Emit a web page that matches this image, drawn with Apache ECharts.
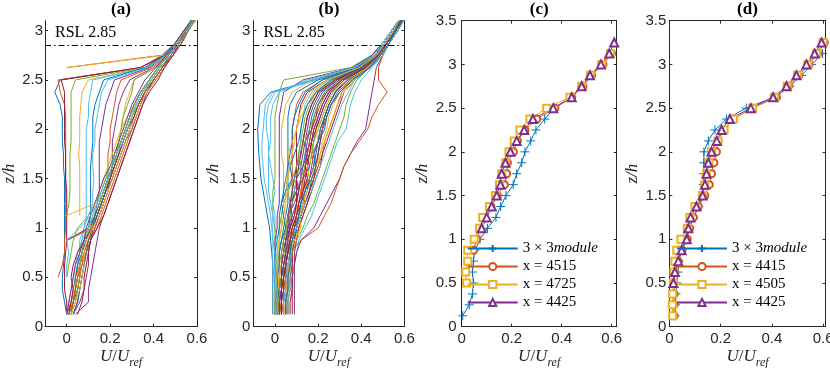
<!DOCTYPE html>
<html><head><meta charset="utf-8">
<script src="https://cdn.jsdelivr.net/npm/echarts@6/dist/echarts.min.js"></script>
<style>html,body{margin:0;padding:0;background:#fff}#c{width:830px;height:368px}</style>
</head><body><div id="c"></div><script>
const _ = null;
// heights z/h of every profile point
const Z = [0.125,0.25,0.375,0.5,0.625,0.75,0.875,1,1.125,1.25,1.375,1.5,1.625,1.75,1.875,2,2.125,2.25,2.375,2.5,2.625,2.75,2.875,3,3.125,3.25];

// panel (a) profiles U/Uref
const a01=[0.0,-0.01,-0.02,-0.02,-0.015,-0.01,-0.01,-0.01,-0.01,-0.01,-0.01,-0.01,-0.015,-0.015,-0.02,-0.02,-0.02,-0.03,-0.055,-0.03,0.34,0.45,0.5,0.54,0.58,0.61];
const a02=[_,_,_,-0.04,-0.02,-0.01,-0.01,-0.005,-0.005,-0.005,-0.005,-0.005,-0.005,-0.005,-0.005,-0.005,-0.005,-0.01,-0.03,-0.04,0.34,0.44,0.5,0.54,0.58,0.61];
const a03=[0.0,0.0,-0.01,-0.01,-0.01,-0.005,0.0,0.0,0.0,0.0,0.0,-0.005,-0.005,-0.005,-0.01,-0.01,-0.01,-0.01,-0.01,-0.025,0.34,0.45,0.5,0.545,0.58,0.61];
const a04=[_,_,_,_,_,_,_,_,_,_,_,_,_,_,_,_,_,_,_,_,0.0,0.44,0.5,0.54,0.58,0.61];
const a05=[_,_,_,_,_,_,_,_,_,_,_,_,_,_,_,_,_,_,_,_,0.0,0.45,0.5,0.545,0.585,0.62];
const a06=[_,_,_,_,_,_,_,_,0.0,0.01,0.015,0.015,0.015,0.015,0.02,0.02,0.02,0.02,0.02,0.04,0.36,0.46,0.51,0.55,0.59,0.62];
const a07=[_,_,_,_,_,_,_,_,0.06,0.06,0.06,0.06,0.06,0.055,0.06,0.06,0.06,0.065,0.07,0.1,0.37,0.46,0.51,0.55,0.59,0.62];
const a08=[0.01,0.03,0.04,0.05,0.05,0.06,0.07,0.08,0.09,0.09,0.09,0.09,0.09,0.09,0.09,0.09,0.1,0.1,0.11,0.12,0.37,0.46,0.51,0.55,0.59,0.62];
const a09=[0.02,0.03,0.05,0.06,0.06,0.07,0.08,0.1,0.11,0.11,0.11,0.11,0.11,0.115,0.12,0.12,0.12,0.13,0.15,0.17,0.36,0.45,0.5,0.54,0.58,0.61];
const a10=[0.03,0.06,0.08,0.09,0.1,0.1,0.11,0.12,0.13,0.14,0.15,0.15,0.15,0.15,0.15,0.16,0.17,0.18,0.2,0.22,0.38,0.46,0.51,0.55,0.59,0.62];
const a11=[0.01,0.02,0.04,0.04,0.05,0.06,0.06,0.08,0.1,0.12,0.12,0.125,0.12,0.12,0.13,0.13,0.14,0.15,0.16,0.19,0.37,0.46,0.5,0.54,0.58,0.61];
const a12=[0.02,0.04,0.05,0.06,0.07,0.08,0.1,0.12,0.14,0.16,0.18,0.19,0.19,0.19,0.2,0.2,0.21,0.22,0.23,0.25,0.39,0.47,0.51,0.55,0.59,0.62];
const a13=[0.03,0.05,0.06,0.07,0.08,0.09,0.11,0.13,0.15,0.17,0.19,0.2,0.21,0.21,0.21,0.22,0.23,0.24,0.26,0.29,0.4,0.47,0.52,0.55,0.59,0.62];
const a14=[0.0,0.02,0.04,0.05,0.06,0.08,0.1,0.12,0.14,0.16,0.18,0.2,0.22,0.23,0.24,0.25,0.26,0.27,0.29,0.31,0.4,0.47,0.51,0.55,0.58,0.61];
const a15=[0.01,0.03,0.04,0.05,0.06,0.07,0.09,0.11,0.13,0.15,0.17,0.19,0.21,0.22,0.24,0.25,0.26,0.28,0.3,0.31,0.41,0.48,0.52,0.56,0.59,0.62];
const a16=[_,_,_,_,_,_,0.0,0.12,0.14,0.16,0.18,0.2,0.22,0.24,0.26,0.28,0.3,0.32,0.35,0.39,0.43,0.48,0.52,0.56,0.59,0.62];
const a17=[_,_,_,_,_,_,0.0,0.1,0.13,0.15,0.17,0.19,0.21,0.23,0.25,0.27,0.29,0.31,0.34,0.38,0.42,0.47,0.51,0.55,0.58,0.61];
const a18=[_,_,_,_,_,_,_,_,0.0,0.13,0.15,0.17,0.19,0.21,0.23,0.25,0.28,0.31,0.34,0.38,0.42,0.47,0.51,0.55,0.58,0.61];
const a19=[0.0,0.02,0.03,0.04,0.05,0.07,0.09,0.11,0.13,0.15,0.17,0.19,0.21,0.23,0.25,0.27,0.29,0.31,0.34,0.38,0.42,0.47,0.51,0.55,0.58,0.61];
const a20=[0.02,0.03,0.04,0.04,0.06,0.08,0.1,0.13,0.15,0.17,0.19,0.21,0.23,0.25,0.27,0.29,0.31,0.33,0.36,0.4,0.44,0.48,0.52,0.56,0.59,0.62];
const a21=[0.01,0.02,0.03,0.05,0.06,0.07,0.08,0.1,0.12,0.15,0.17,0.2,0.22,0.24,0.26,0.28,0.3,0.32,0.35,0.39,0.43,0.48,0.52,0.55,0.59,0.62];
const a22=[0.04,0.1,0.1,0.11,0.12,0.13,0.14,0.15,0.17,0.19,0.21,0.23,0.25,0.27,0.29,0.31,0.33,0.35,0.37,0.4,0.44,0.49,0.53,0.56,0.6,0.63];
const a23=[0.02,0.04,0.05,0.06,0.06,0.07,0.08,0.11,0.14,0.16,0.18,0.2,0.22,0.24,0.26,0.28,0.3,0.33,0.36,0.39,0.43,0.48,0.52,0.56,0.59,0.62];
const a24=[0.0,0.01,0.02,0.03,0.04,0.05,0.07,0.1,0.12,0.14,0.16,0.18,0.2,0.23,0.25,0.27,0.29,0.32,0.35,0.38,0.42,0.47,0.51,0.55,0.58,0.61];
const a25=[0.01,0.02,0.03,0.02,0.03,0.05,0.08,0.12,0.14,0.16,0.18,0.2,0.22,0.24,0.26,0.28,0.31,0.33,0.36,0.4,0.44,0.48,0.52,0.55,0.59,0.62];
const a26=[0.03,0.05,0.06,0.07,0.08,0.09,0.1,0.12,0.14,0.16,0.18,0.21,0.23,0.25,0.27,0.3,0.32,0.34,0.37,0.41,0.45,0.49,0.53,0.56,0.6,0.63];
const a27=[0.01,0.03,0.04,0.05,0.07,0.09,0.11,0.14,0.16,0.18,0.2,0.22,0.24,0.26,0.28,0.3,0.32,0.34,0.36,0.4,0.44,0.49,0.53,0.56,0.59,0.62];
const a28=[0.02,0.04,0.06,0.07,0.08,0.08,0.09,0.12,0.15,0.17,0.19,0.21,0.23,0.25,0.27,0.29,0.32,0.34,0.37,0.41,0.45,0.49,0.52,0.56,0.6,0.62];
const a29=[0.0,0.01,0.02,0.03,0.04,0.06,0.08,0.09,0.11,0.13,0.15,0.17,0.2,0.22,0.24,0.26,0.28,0.3,0.33,0.36,0.41,0.46,0.5,0.54,0.58,0.61];
const a30=[_,_,_,0.0,0.01,0.02,0.03,0.05,0.1,0.13,0.16,0.18,0.2,0.22,0.25,0.27,0.29,0.31,0.34,0.38,0.42,0.47,0.51,0.55,0.59,0.62];
const a31=[0.05,0.07,0.08,0.08,0.09,0.1,0.11,0.14,0.17,0.19,0.21,0.23,0.25,0.27,0.29,0.31,0.33,0.35,0.38,0.42,0.45,0.49,0.52,0.56,0.59,0.62];
const a32=[_,_,_,0.0,0.0,0.01,0.0,0.06,0.11,0.14,0.17,0.19,0.21,0.23,0.26,0.28,0.3,0.32,0.35,0.39,0.43,0.48,0.52,0.56,0.59,0.62];
const A_LINES=[a01,a02,a03,a04,a05,a06,a07,a08,a09,a10,a11,a12,a13,a14,a15,a16,a17,a18,a19,a20,a21,a22,a23,a24,a25,a26,a27,a28,a29,a30,a31,a32];
const A_COLORS=[0,1,6,1,2,4,2,5,0,3,5,1,3,2,4,1,6,2,0,1,2,3,4,5,6,0,1,2,3,4,6,5];

// panel (b) profiles U/Uref
const b01=[-0.01,-0.01,-0.01,-0.01,-0.01,-0.015,-0.02,-0.025,-0.035,-0.045,-0.055,-0.065,-0.07,-0.075,-0.078,-0.08,-0.075,-0.07,-0.02,0.18,0.37,0.45,0.5,0.54,0.58,0.61];
const b02=[0.0,0.0,0.0,-0.005,-0.01,-0.01,-0.01,-0.015,-0.02,-0.03,-0.04,-0.05,-0.055,-0.06,-0.06,-0.055,-0.05,-0.045,-0.01,0.2,0.37,0.45,0.5,0.54,0.58,0.61];
const b03=[0.01,0.01,0.01,0.01,0.01,0.0,0.0,0.0,-0.01,-0.01,-0.01,0.0,0.0,0.0,0.0,0.0,0.0,0.01,0.02,0.04,0.35,0.45,0.5,0.54,0.58,0.61];
const b04=[0.0,0.01,0.01,0.01,0.0,0.0,0.0,0.01,0.01,0.02,0.02,0.02,0.02,0.02,0.02,0.02,0.02,0.03,0.04,0.13,0.36,0.45,0.5,0.54,0.58,0.61];
const b05=[0.02,0.02,0.02,0.02,0.02,0.02,0.02,0.03,0.03,0.04,0.04,0.04,0.04,0.03,0.03,0.03,0.04,0.05,0.08,0.17,0.37,0.46,0.51,0.55,0.59,0.62];
const b06=[0.03,0.03,0.02,0.02,0.02,0.02,0.03,0.04,0.05,0.06,0.06,0.06,0.06,0.06,0.06,0.06,0.06,0.07,0.1,0.2,0.37,0.46,0.51,0.55,0.59,0.62];
const b07=[0.0,0.01,0.02,0.02,0.03,0.03,0.04,0.05,0.06,0.07,0.08,0.08,0.08,0.08,0.08,0.08,0.09,0.1,0.13,0.22,0.38,0.46,0.51,0.55,0.58,0.61];
const b08=[0.01,0.01,0.02,0.03,0.03,0.04,0.05,0.06,0.07,0.08,0.09,0.1,0.1,0.1,0.1,0.1,0.11,0.12,0.15,0.24,0.38,0.47,0.51,0.55,0.59,0.62];
const b09=[0.02,0.02,0.03,0.03,0.03,0.04,0.04,0.05,0.06,0.07,0.09,0.1,0.11,0.11,0.12,0.12,0.13,0.14,0.17,0.25,0.39,0.47,0.51,0.55,0.59,0.62];
const b10=[0.0,0.0,0.01,0.02,0.02,0.03,0.04,0.06,0.07,0.08,0.08,0.09,0.1,0.11,0.12,0.13,0.14,0.16,0.19,0.27,0.39,0.47,0.52,0.56,0.59,0.62];
const b11=[0.04,0.04,0.04,0.05,0.05,0.05,0.05,0.06,0.06,0.07,0.08,0.09,0.1,0.12,0.13,0.14,0.15,0.17,0.2,0.28,0.4,0.47,0.51,0.55,0.59,0.62];
const b12=[0.02,0.02,0.03,0.04,0.04,0.05,0.06,0.07,0.09,0.1,0.11,0.12,0.13,0.14,0.15,0.16,0.17,0.19,0.22,0.29,0.4,0.48,0.52,0.56,0.6,0.63];
const b13=[0.03,0.03,0.04,0.04,0.05,0.05,0.06,0.08,0.09,0.11,0.12,0.13,0.14,0.15,0.16,0.17,0.18,0.2,0.23,0.3,0.41,0.48,0.52,0.56,0.59,0.62];
const b14=[0.01,0.02,0.03,0.04,0.05,0.06,0.07,0.09,0.1,0.11,0.12,0.13,0.14,0.15,0.16,0.17,0.19,0.21,0.24,0.31,0.41,0.48,0.52,0.56,0.59,0.62];
const b15=[0.05,0.05,0.06,0.06,0.06,0.07,0.07,0.09,0.1,0.12,0.13,0.14,0.15,0.16,0.17,0.18,0.2,0.22,0.25,0.31,0.42,0.48,0.52,0.56,0.6,0.63];
const b16=[0.04,0.04,0.04,0.05,0.05,0.06,0.07,0.08,0.1,0.12,0.14,0.15,0.16,0.17,0.18,0.19,0.21,0.23,0.26,0.32,0.42,0.49,0.53,0.56,0.6,0.62];
const b17=[0.02,0.03,0.03,0.04,0.05,0.06,0.08,0.1,0.12,0.13,0.14,0.15,0.16,0.17,0.18,0.2,0.22,0.24,0.27,0.33,0.42,0.48,0.52,0.56,0.59,0.62];
const b18=[0.06,0.06,0.07,0.07,0.08,0.08,0.09,0.1,0.11,0.13,0.15,0.16,0.17,0.18,0.2,0.21,0.23,0.25,0.28,0.34,0.43,0.49,0.52,0.56,0.6,0.63];
const b19=[0.03,0.04,0.05,0.06,0.07,0.08,0.09,0.11,0.13,0.15,0.16,0.17,0.19,0.2,0.21,0.22,0.24,0.26,0.29,0.35,0.43,0.49,0.53,0.57,0.6,0.63];
const b20=[0.05,0.05,0.06,0.06,0.07,0.08,0.09,0.11,0.13,0.15,0.17,0.18,0.2,0.21,0.22,0.24,0.25,0.27,0.3,0.35,0.43,0.49,0.52,0.56,0.6,0.62];
const b21=[0.02,0.03,0.04,0.05,0.06,0.07,0.08,0.1,0.12,0.14,0.16,0.18,0.2,0.22,0.23,0.25,0.27,0.29,0.31,0.36,0.44,0.49,0.53,0.57,0.6,0.63];
const b22=[0.07,0.07,0.08,0.08,0.09,0.09,0.1,0.11,0.13,0.15,0.17,0.19,0.21,0.22,0.24,0.26,0.28,0.3,0.32,0.37,0.44,0.5,0.53,0.57,0.6,0.63];
const b23=[0.06,0.06,0.07,0.08,0.09,0.1,0.11,0.14,0.17,0.19,0.21,0.23,0.25,0.27,0.29,0.33,0.34,0.35,0.37,0.4,0.45,0.5,0.53,0.57,0.6,0.63];
const b24=[0.09,0.09,0.09,0.09,0.09,0.1,0.12,0.18,0.21,0.24,0.27,0.3,0.32,0.35,0.38,0.42,0.43,0.44,0.45,0.46,0.47,0.5,0.53,0.56,0.59,0.62];
const b25=[0.03,0.04,0.05,0.05,0.06,0.07,0.12,0.2,0.23,0.26,0.28,0.3,0.32,0.35,0.39,0.43,0.45,0.48,0.52,0.48,0.48,0.5,0.53,0.56,0.59,0.62];
const b26=[0.0,0.0,0.0,0.01,0.01,0.02,0.02,0.02,0.03,0.04,0.06,0.08,0.1,0.12,0.13,0.14,0.15,0.17,0.2,0.27,0.4,0.47,0.51,0.55,0.59,0.62];
const b27=[0.01,0.01,0.01,0.02,0.02,0.02,0.02,0.03,0.04,0.05,0.05,0.06,0.07,0.08,0.09,0.1,0.12,0.15,0.18,0.26,0.39,0.47,0.51,0.55,0.58,0.61];
const b28=[0.0,0.0,0.0,0.0,0.0,0.0,0.01,0.02,0.02,0.03,0.04,0.05,0.06,0.07,0.08,0.08,0.09,0.11,0.14,0.22,0.38,0.46,0.51,0.55,0.58,0.61];
const b29=[0.08,0.08,0.08,0.08,0.08,0.08,0.09,0.1,0.12,0.14,0.16,0.18,0.19,0.2,0.21,0.22,0.23,0.25,0.28,0.33,0.42,0.48,0.52,0.56,0.59,0.62];
const b30=[0.0,0.0,0.0,0.0,0.0,0.0,-0.01,-0.01,-0.01,-0.02,-0.03,-0.03,-0.03,-0.03,-0.02,-0.02,-0.02,-0.01,0.02,0.15,0.37,0.46,0.5,0.54,0.58,0.61];
const b31=[0.05,0.05,0.05,0.05,0.05,0.06,0.06,0.07,0.08,0.1,0.11,0.12,0.12,0.13,0.14,0.15,0.16,0.18,0.21,0.29,0.4,0.47,0.52,0.55,0.59,0.62];
const b32=[0.04,0.04,0.04,0.04,0.04,0.05,0.06,0.08,0.1,0.12,0.13,0.13,0.14,0.15,0.16,0.17,0.18,0.2,0.23,0.3,0.41,0.48,0.52,0.56,0.59,0.62];
const b33=[0.02,0.02,0.02,0.03,0.03,0.04,0.05,0.07,0.09,0.1,0.1,0.1,0.11,0.12,0.13,0.14,0.15,0.17,0.2,0.28,0.4,0.47,0.51,0.55,0.59,0.62];
const b34=[0.01,0.01,0.02,0.02,0.03,0.03,0.04,0.05,0.06,0.08,0.1,0.12,0.14,0.16,0.18,0.19,0.2,0.22,0.25,0.31,0.41,0.48,0.52,0.56,0.59,0.62];
const b35=[0.0,0.01,0.01,0.02,0.03,0.04,0.06,0.09,0.11,0.13,0.15,0.17,0.19,0.21,0.23,0.25,0.27,0.29,0.32,0.37,0.44,0.49,0.53,0.56,0.6,0.63];
const b36=[0.01,0.01,0.02,0.03,0.04,0.06,0.08,0.1,0.11,0.12,0.14,0.16,0.18,0.19,0.2,0.21,0.23,0.25,0.28,0.34,0.43,0.49,0.53,0.57,0.6,0.63];
const b37=[0.03,0.03,0.04,0.04,0.03,0.04,0.05,0.07,0.06,0.09,0.11,0.1,0.13,0.15,0.14,0.17,0.19,0.2,0.24,0.3,0.41,0.48,0.52,0.56,0.59,0.62];
const b38=[0.01,0.02,0.02,0.03,0.05,0.04,0.06,0.05,0.08,0.07,0.06,0.09,0.12,0.11,0.14,0.16,0.18,0.2,0.23,0.3,0.41,0.47,0.52,0.55,0.59,0.62];
const b39=[0.04,0.05,0.05,0.06,0.06,0.07,0.09,0.12,0.11,0.14,0.13,0.16,0.15,0.18,0.2,0.19,0.22,0.24,0.27,0.33,0.43,0.49,0.53,0.57,0.6,0.63];
const b40=[0.0,0.0,0.01,0.01,0.02,0.02,0.03,0.05,0.04,0.03,0.05,0.08,0.07,0.09,0.11,0.12,0.13,0.15,0.19,0.26,0.4,0.47,0.51,0.55,0.59,0.62];
const b41=[0.02,0.03,0.03,0.04,0.04,0.05,0.07,0.09,0.12,0.14,0.12,0.16,0.18,0.17,0.2,0.22,0.24,0.26,0.3,0.36,0.44,0.5,0.53,0.57,0.6,0.63];
const b42=[0.01,0.01,0.01,0.0,0.0,0.01,0.01,0.0,0.0,-0.01,0.0,-0.01,-0.02,-0.03,-0.03,-0.04,-0.04,-0.03,0.0,0.17,0.37,0.46,0.5,0.54,0.58,0.61];
const b43=[0.03,0.03,0.03,0.04,0.05,0.06,0.07,0.08,0.1,0.11,0.13,0.15,0.14,0.16,0.17,0.19,0.21,0.23,0.26,0.32,0.42,0.48,0.52,0.56,0.6,0.63];
const b44=[0.06,0.06,0.06,0.07,0.07,0.08,0.1,0.13,0.15,0.18,0.2,0.22,0.24,0.26,0.28,0.3,0.32,0.33,0.35,0.38,0.44,0.5,0.53,0.57,0.6,0.63];
const b45=[0.02,0.02,0.03,0.03,0.04,0.05,0.06,0.06,0.08,0.07,0.1,0.13,0.16,0.14,0.17,0.18,0.2,0.22,0.25,0.31,0.41,0.48,0.52,0.56,0.59,0.62];
const b46=[0.04,0.04,0.05,0.05,0.06,0.07,0.08,0.1,0.12,0.14,0.17,0.19,0.21,0.23,0.25,0.27,0.29,0.31,0.34,0.37,0.44,0.5,0.53,0.57,0.6,0.63];
const b47=[0.0,0.0,0.0,0.01,0.01,0.01,0.02,0.03,0.05,0.04,0.06,0.05,0.07,0.06,0.08,0.1,0.11,0.13,0.16,0.24,0.39,0.47,0.51,0.55,0.58,0.61];
const b48=[0.05,0.05,0.06,0.06,0.07,0.07,0.08,0.09,0.11,0.12,0.14,0.17,0.19,0.18,0.2,0.23,0.24,0.26,0.3,0.36,0.44,0.49,0.53,0.56,0.6,0.63];
const B_LINES=[b01,b02,b03,b04,b05,b06,b07,b08,b09,b10,b11,b12,b13,b14,b15,b16,b17,b18,b19,b20,b21,b22,b23,b24,b25,b26,b27,b28,b29,b30,b31,b32,b33,b34,b35,b36,b37,b38,b39,b40,b41,b42,b43,b44,b45,b46,b47,b48];
const B_COLORS=[0,5,4,3,2,0,1,6,5,4,3,0,2,1,6,5,4,3,0,2,1,6,5,3,1,4,2,0,6,5,3,1,6,4,2,0,3,4,2,0,1,5,6,4,3,5,2,0];

// panel (c)
const C_NAMES=['3 × 3module','x = 4515','x = 4725','x = 4425'];
const c_module=[0.004,0.03,0.043,0.047,0.043,0.047,0.053,0.073,0.103,0.137,0.156,0.177,0.206,0.22,0.24,0.253,0.276,0.297,0.332,0.37,0.44,0.48,0.515,0.56,0.595,_];
const c_4515=[_,_,_,_,_,_,0.047,0.06,0.073,0.089,0.117,0.143,0.171,0.18,0.183,0.207,0.223,0.253,0.3,0.373,0.44,0.485,0.52,0.565,0.6,_];
const c_4725=[_,_,_,0.02,0.016,0.024,0.024,0.05,0.071,0.084,0.111,0.135,0.151,0.16,0.176,0.189,0.21,0.233,0.273,0.34,0.433,0.48,0.515,0.56,0.595,_];
const c_4425=[_,_,_,_,_,_,_,_,0.08,0.1,0.12,0.14,0.155,0.16,0.175,0.195,0.22,0.25,0.285,0.366,0.44,0.48,0.513,0.557,0.59,0.61];
// panel (d)
const D_NAMES=['3 × 3module','x = 4415','x = 4505','x = 4425'];
const d_module=[0.022,0.024,0.026,0.03,0.034,0.038,0.045,0.06,0.075,0.095,0.115,0.128,0.133,0.135,0.135,0.135,0.152,0.178,0.223,0.3,0.41,0.47,0.516,0.555,0.598,_];
const d_4415=[0.019,0.018,0.019,0.018,0.022,0.035,0.05,0.07,0.08,0.094,0.113,0.139,0.156,0.165,0.174,0.184,0.19,0.21,0.25,0.325,0.418,0.465,0.505,0.545,0.58,0.605];
const d_4505=[0.013,0.012,0.013,0.016,0.018,0.022,0.029,0.045,0.07,0.08,0.1,0.13,0.138,0.145,0.155,0.165,0.19,0.214,0.25,0.325,0.41,0.46,0.5,0.54,0.575,0.6];
const d_4425=[_,_,_,0.016,0.022,0.035,0.048,0.068,0.074,0.083,0.106,0.13,0.139,0.145,0.152,0.165,0.185,0.204,0.236,0.318,0.405,0.457,0.496,0.535,0.567,0.594];

const X_TICKS=[0,0.2,0.4,0.6];
const Y_TICKS_AB=[0,0.5,1,1.5,2,2.5,3];
const Y_TICKS_CD=[0,0.5,1,1.5,2,2.5,3,3.5];
const RSL=2.85;
const TITLES=['(a)','(b)','(c)','(d)'];

const PAL=['#0072BD','#D95319','#EDB120','#7E2F8E','#77AC30','#4DBEEE','#A2142F'];
const AX='#262626';
const PLUS='path://M5,0L5,10M0,5L10,5';

function pts(arr){ return Z.map((z,i)=>[arr[i],z]).filter(p=>p[0]!==null); }

const GR=[
  {left:45,top:20.7,width:152,height:306,xmin:-0.1,xmax:0.6,ymax:3.1,ylm:2,yng:22},
  {left:253.4,top:20.7,width:151,height:306,xmin:-0.1,xmax:0.6,ymax:3.1,ylm:3,yng:31},
  {left:461.7,top:20.7,width:155,height:306,xmin:0,xmax:0.62,ymax:3.5,ylm:5,yng:31},
  {left:669.3,top:20.7,width:156.4,height:306,xmin:0,xmax:0.61,ymax:3.5,ylm:3,yng:28}
];
const serif='"Liberation Serif", "Times New Roman", serif';
const sans='"Liberation Sans", Arial, sans-serif';

const xAxis=[], yAxis=[];
GR.forEach((g,i)=>{
  xAxis.push({type:'value',gridIndex:i,min:g.xmin,max:g.xmax,position:'bottom',
    axisLine:{show:true,onZero:false,lineStyle:{color:AX,width:1}},
    axisTick:{show:true,inside:true,length:3,customValues:X_TICKS,lineStyle:{color:AX}},
    axisLabel:{show:true,customValues:X_TICKS,color:AX,fontFamily:sans,fontSize:15,margin:5},
    splitLine:{show:false},
    name:'{i|U}{m|/}{i|U}{s|ref}',nameLocation:'middle',nameGap:21,nameMoveOverlap:false,
    nameTextStyle:{color:AX,fontFamily:serif,fontSize:16,rich:{
      i:{fontFamily:serif,fontStyle:'italic',fontSize:17,color:AX,verticalAlign:'bottom',padding:[0,0,4,0]},
      m:{fontFamily:serif,fontSize:17,color:AX,verticalAlign:'bottom',padding:[0,0,4,0]},
      s:{fontFamily:serif,fontStyle:'italic',fontSize:12,color:AX,verticalAlign:'bottom'}}}
  });
  const yt=i<2?Y_TICKS_AB:Y_TICKS_CD;
  yAxis.push({type:'value',gridIndex:i,min:0,max:g.ymax,position:'left',
    axisLine:{show:true,onZero:false,lineStyle:{color:AX,width:1}},
    axisTick:{show:true,inside:true,length:3,customValues:yt,lineStyle:{color:AX}},
    axisLabel:{show:true,customValues:yt,color:AX,fontFamily:sans,fontSize:15,margin:g.ylm},
    splitLine:{show:false},
    name:'z/h',nameLocation:'middle',nameGap:g.yng,nameRotate:90,
    nameTextStyle:{color:AX,fontFamily:serif,fontStyle:'italic',fontSize:17}
  });
});
[2,3].forEach(i=>{
  const g=GR[i];
  xAxis.push({type:'value',gridIndex:i,min:g.xmin,max:g.xmax,position:'top',
    axisLine:{show:true,onZero:false,lineStyle:{color:AX,width:1}},
    axisTick:{show:true,inside:true,length:3,customValues:X_TICKS,lineStyle:{color:AX}},
    axisLabel:{show:false},splitLine:{show:false}});
});
GR.forEach((g,i)=>{
  const yt=i<2?Y_TICKS_AB:Y_TICKS_CD;
  yAxis.push({type:'value',gridIndex:i,min:0,max:g.ymax,position:'right',
    axisLine:{show:true,onZero:false,lineStyle:{color:AX,width:1}},
    axisTick:{show:true,inside:true,length:3,customValues:yt,lineStyle:{color:AX}},
    axisLabel:{show:false},splitLine:{show:false}});
});

const series=[];
A_LINES.forEach((arr,k)=>{
  series.push({type:'line',name:'a'+k,xAxisIndex:0,yAxisIndex:0,data:pts(arr),showSymbol:false,silent:true,
    lineStyle:{color:PAL[A_COLORS[k]],width:1},itemStyle:{color:PAL[A_COLORS[k]]}});
});
B_LINES.forEach((arr,k)=>{
  series.push({type:'line',name:'b'+k,xAxisIndex:1,yAxisIndex:1,data:pts(arr),showSymbol:false,silent:true,
    lineStyle:{color:PAL[B_COLORS[k]],width:1},itemStyle:{color:PAL[B_COLORS[k]]}});
});
[0,1].forEach(i=>{
  series.push({type:'line',name:'rsl'+i,xAxisIndex:i,yAxisIndex:i,data:[],silent:true,
    markLine:{silent:true,symbol:'none',label:{show:false},animation:false,
      lineStyle:{color:'#000',width:1,type:[6,3,1.5,3]},data:[{yAxis:RSL}]}});
});
const SYM=[PLUS,'emptyCircle','emptyRect','emptyTriangle'];
const SYMSZ=[9,7,7,8];
function markerSeries(names,arrs,gi){
  arrs.forEach((arr,k)=>{
    series.push({type:'line',name:names[k],xAxisIndex:gi,yAxisIndex:gi,data:pts(arr),
      symbol:SYM[k],symbolSize:SYMSZ[k],showSymbol:true,showAllSymbol:true,silent:true,
      lineStyle:{color:PAL[k===0?0:k],width:1},
      itemStyle:{color:k===0?PAL[0]:PAL[k],borderColor:PAL[k],borderWidth:1}});
  });
}
markerSeries(C_NAMES,[c_module,c_4515,c_4725,c_4425],2);
markerSeries(D_NAMES,[d_module,d_4415,d_4505,d_4425],3);

function legendFor(names,left){
  return {show:true,orient:'vertical',left:left,top:236,itemWidth:50,itemHeight:9,itemGap:3,
    selectedMode:false,data:names,
    formatter:n=>n==='3 × 3module'?'3 × 3{i|module}':n,
    textStyle:{fontFamily:serif,fontSize:15,color:'#000',
      rich:{i:{fontFamily:serif,fontStyle:'italic',fontSize:15,color:'#000'}}}};
}

const graphic=[];
GR.forEach((g,i)=>{
  graphic.push({type:'text',x:g.left+g.width/2,y:10,silent:true,
    style:{text:TITLES[i],font:'bold 17px '+serif,fill:'#000',textAlign:'center',textVerticalAlign:'middle',verticalAlign:'middle'}});
});
[0,1].forEach(i=>{
  graphic.push({type:'text',x:GR[i].left+10,y:33,silent:true,
    style:{text:'RSL '+RSL,font:'16px '+serif,fill:'#000',textAlign:'left',textVerticalAlign:'middle',verticalAlign:'middle'}});
});

const chart=echarts.init(document.getElementById('c'),null,{renderer:'canvas'});
chart.setOption({
  animation:false,
  backgroundColor:'#fff',
  grid:GR.map(g=>({left:g.left,top:g.top,width:g.width,height:g.height,containLabel:false,outerBoundsMode:'none'})),
  xAxis:xAxis,yAxis:yAxis,series:series,
  legend:[legendFor(C_NAMES,461.7),legendFor(D_NAMES,671)],
  graphic:graphic
});
</script></body></html>
